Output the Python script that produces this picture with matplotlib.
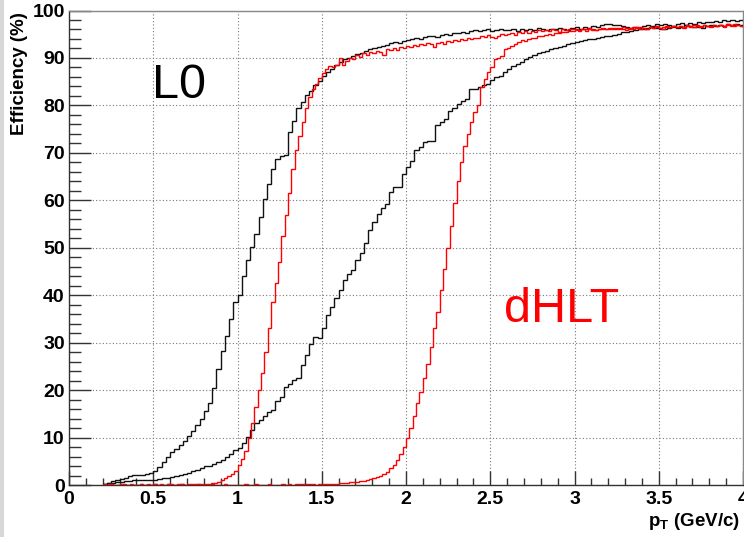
import numpy as np
import matplotlib
matplotlib.use("Agg")
import matplotlib.pyplot as plt
from matplotlib.ticker import MultipleLocator

plt.rcParams['font.family'] = ['Liberation Sans', 'DejaVu Sans']
plt.rcParams['mathtext.fontset'] = 'custom'
plt.rcParams['mathtext.rm'] = 'Liberation Sans'
plt.rcParams['mathtext.bf'] = 'Liberation Sans:bold'

# histograms start at pT = 0.2 GeV/c
x_start = 0.2
x_end = 4.0

# black curves: bin width 0.025
l0_low = [
    0.3, 0.5, 0.8, 1.0, 1.2, 1.5, 1.8, 2.1,
    2.1, 2.2, 2.4, 2.6, 2.9, 3.8, 4.8, 5.8,
    6.9, 7.6, 8.5, 9.3, 10.3, 11.4, 12.6, 14.0,
    15.5, 17.2, 20.5, 24.5, 28.2, 31.5, 35.0, 38.5,
    40.0, 44.0, 47.5, 50.2, 52.8, 56.5, 60.2, 63.5,
    66.5, 68.8, 69.3, 69.5, 74.4, 76.8, 79.5, 80.8,
    82.2, 83.0, 84.3, 85.2, 86.2, 87.0, 87.6, 88.5,
    89.1, 89.7, 90.0, 90.4, 90.9, 91.0, 91.5, 91.8,
    92.0, 92.3, 92.6, 92.8, 93.1, 93.3, 93.2, 93.6,
    93.7, 93.9, 94.2, 94.0, 94.4, 94.6, 94.7, 94.5,
    94.9, 95.1, 94.9, 95.2, 95.3, 95.5, 95.2, 95.6,
    95.8, 95.6, 95.8, 96.0, 95.7, 95.8, 96.1, 95.9,
    95.8, 96.0, 95.7, 96.2, 95.9, 96.1, 95.8, 96.3,
    96.0, 95.8, 96.2, 96.0, 96.4, 96.1, 95.9, 96.3,
    96.5, 96.2, 96.6, 96.4, 96.8, 96.5, 96.9, 97.1,
    97.2, 96.9, 97.0, 96.7, 96.5, 96.3, 96.6, 96.4,
    96.8, 97.0, 96.7, 97.1, 96.9, 97.2, 97.0, 96.8,
    97.1, 97.3, 97.0, 97.4, 97.2, 97.5, 97.3, 97.6,
    97.5, 97.8, 97.6, 97.9, 97.7, 98.0, 97.8, 98.1,
]
l0_high = [
    0.2, 0.4, 0.5, 0.6, 0.7, 0.8, 0.9, 1.0,
    1.0, 1.0, 1.1, 1.1, 1.1, 1.2, 1.4, 1.5,
    1.7, 1.9, 2.1, 2.3, 2.6, 2.9, 3.2, 3.6,
    3.9, 4.1, 4.5, 4.9, 5.3, 5.9, 6.6, 7.3,
    7.7, 8.8, 10.2, 11.5, 13.0, 13.8, 14.6, 15.4,
    15.8, 17.6, 18.6, 20.7, 21.2, 22.1, 22.5, 25.3,
    27.5, 29.8, 31.2, 30.9, 33.0, 35.8, 37.5, 39.5,
    41.2, 43.2, 44.5, 45.3, 47.5, 48.8, 50.9, 53.7,
    55.5, 57.2, 58.3, 59.3, 61.7, 62.8, 62.8, 65.6,
    67.0, 68.3, 70.5, 71.2, 72.3, 72.6, 72.6, 75.8,
    76.5, 77.2, 78.9, 79.5, 80.4, 81.0, 81.4, 83.5,
    83.5, 83.8, 84.2, 84.6, 85.3, 86.0, 86.3, 87.0,
    87.7, 88.3, 88.8, 89.2, 89.8, 90.3, 90.6, 91.0,
    91.2, 91.5, 91.9, 92.1, 92.3, 92.6, 92.9, 93.1,
    93.3, 93.5, 93.8, 94.0, 94.0, 94.3, 94.5, 94.6,
    94.6, 94.9, 95.1, 95.4, 95.4, 95.7, 95.9, 96.0,
    96.0, 96.3, 96.5, 96.3, 96.2, 96.1, 96.3, 96.5,
    96.3, 96.6, 97.0, 96.8, 96.5, 96.6, 96.4, 96.7,
    96.9, 96.7, 97.0, 96.8, 97.1, 96.9, 97.2, 97.0,
]

# red curves: bin width 0.02
hlt_low = [
    0.2, 0.0, 0.3, 0.1, 0.0, 0.2, 0.0, 0.1, 0.3, 0.0,
    0.1, 0.2, 0.0, 0.3, 0.1, 0.2, 0.0, 0.2, 0.1, 0.3,
    0.2, 0.1, 0.3, 0.2, 0.1, 0.3, 0.2, 0.2, 0.3, 0.2,
    0.3, 0.3, 0.4, 0.5, 0.7, 1.0, 1.4, 1.9, 2.4, 2.9,
    4.2, 5.5, 7.2, 9.8, 13.0, 16.5, 20.0, 23.5, 28.0, 33.0,
    38.5, 42.5, 47.0, 52.5, 57.0, 61.5, 66.5, 70.5, 73.5, 76.5,
    79.5, 81.8, 83.5, 84.5, 85.8, 86.8, 87.7, 88.3, 88.0, 88.6,
    89.9, 88.6, 89.4, 90.0, 89.8, 90.6, 90.3, 91.0, 90.7, 91.2,
    91.0, 91.5, 91.3, 90.6, 91.8, 91.6, 92.0, 91.7, 92.3, 92.1,
    92.6, 92.3, 92.8, 92.5, 93.0, 92.7, 93.1, 92.9, 92.4, 93.2,
    93.3, 93.0, 93.6, 93.4, 93.8, 93.5, 94.0, 93.7, 94.2, 93.9,
    94.3, 94.1, 94.6, 94.4, 94.8, 94.5, 94.2, 94.7, 95.0, 94.8,
    95.0, 95.3, 94.9, 95.4, 95.2, 95.6, 95.3, 95.7, 95.5, 95.8,
    95.6, 95.9, 95.7, 96.0, 95.8, 95.5, 96.1, 95.9, 96.2, 96.0,
    96.1, 95.9, 96.2, 96.0, 96.3, 96.1, 95.8, 96.2, 96.4, 96.1,
    96.3, 96.0, 96.4, 96.2, 96.5, 96.3, 96.1, 96.5, 96.3, 96.6,
    96.4, 96.2, 96.6, 96.4, 96.7, 96.3, 96.6, 96.8, 96.5, 96.7,
    96.5, 96.8, 96.6, 96.9, 96.7, 96.5, 96.9, 96.7, 97.0, 96.8,
    96.6, 96.9, 96.7, 97.0, 96.8, 97.1, 96.9, 96.7, 97.0, 96.8,
]
hlt_high = [
    0.1, 0.0, 0.2, 0.0, 0.1, 0.0, 0.2, 0.1, 0.0, 0.1,
    0.0, 0.2, 0.1, 0.0, 0.1, 0.2, 0.0, 0.1, 0.0, 0.2,
    0.1, 0.0, 0.1, 0.2, 0.0, 0.1, 0.0, 0.1, 0.2, 0.0,
    0.1, 0.0, 0.2, 0.1, 0.0, 0.1, 0.2, 0.0, 0.1, 0.1,
    0.0, 0.1, 0.2, 0.1, 0.0, 0.2, 0.1, 0.1, 0.0, 0.2,
    0.1, 0.0, 0.1, 0.2, 0.1, 0.2, 0.1, 0.2, 0.3, 0.2,
    0.2, 0.3, 0.2, 0.1, 0.3, 0.2, 0.3, 0.2, 0.3, 0.3,
    0.4, 0.5, 0.5, 0.6, 0.6, 0.7, 0.8, 0.9, 1.0, 1.2,
    1.4, 1.6, 1.9, 2.3, 2.8, 3.5, 4.3, 5.3, 6.6, 8.0,
    9.8, 12.0, 14.5, 17.2, 19.5, 22.5, 25.5, 29.0, 33.0, 36.5,
    41.0, 45.5, 50.0, 54.5, 59.5, 64.0, 68.0, 71.5, 74.0, 76.5,
    78.6, 80.0, 83.9, 85.5, 87.0, 88.0, 89.8, 90.0, 90.5, 91.9,
    92.2, 92.6, 93.0, 93.3, 93.8, 93.5, 94.0, 94.3, 94.1, 94.6,
    94.7, 94.9, 95.1, 94.8, 95.3, 95.2, 95.5, 95.4, 95.7, 95.6,
    95.8, 95.6, 96.0, 95.7, 96.1, 95.9, 95.8, 96.2, 96.0, 96.1,
    96.1, 96.3, 96.0, 96.4, 96.2, 95.9, 96.3, 96.1, 96.5, 96.2,
    96.4, 96.2, 96.5, 96.3, 96.6, 96.4, 96.2, 96.6, 96.5, 96.7,
    96.5, 96.7, 96.4, 96.8, 96.6, 96.9, 96.7, 96.5, 96.9, 96.7,
    96.8, 97.0, 96.7, 96.9, 96.6, 97.0, 96.8, 97.1, 96.9, 96.8,
]

fig = plt.figure(figsize=(7.44, 5.37), dpi=100)
ax = fig.add_axes([69 / 744, 52 / 537, 674 / 744, 474.5 / 537])

edges_black = np.linspace(x_start, x_end, len(l0_low) + 1)
edges_red = np.linspace(x_start, x_end, len(hlt_low) + 1)

ax.stairs(l0_low, edges_black, baseline=None, color='#111111', lw=1.0, zorder=3)
ax.stairs(l0_high, edges_black, baseline=None, color='#111111', lw=1.0, zorder=3)
ax.stairs(hlt_low, edges_red, baseline=None, color='#ff0000', lw=1.0, zorder=3)
ax.stairs(hlt_high, edges_red, baseline=None, color='#ff0000', lw=1.0, zorder=3)

ax.set_xlim(0, 4)
ax.set_ylim(0, 100)

# ROOT style axes
ax.xaxis.set_major_locator(MultipleLocator(0.5))
ax.xaxis.set_minor_locator(MultipleLocator(0.1))
ax.yaxis.set_major_locator(MultipleLocator(10))
ax.yaxis.set_minor_locator(MultipleLocator(2))
ax.xaxis.set_major_formatter(matplotlib.ticker.FuncFormatter(lambda v, p: f"{v:g}"))

ax.tick_params(axis='y', which='major', direction='in', length=16, width=1, color='#333333',
               right=False, labelsize=14, pad=3)
ax.tick_params(axis='y', which='minor', direction='in', length=8.5, width=1, color='#333333', right=False)
ax.tick_params(axis='x', which='major', direction='in', length=10, width=1, color='#333333',
               top=False, labelsize=14, pad=4)
ax.tick_params(axis='x', which='minor', direction='in', length=5, width=1, color='#333333', top=False)
for lab in ax.get_xticklabels() + ax.get_yticklabels():
    lab.set_fontweight('bold')

ax.grid(True, which='major', color='#777777', linestyle=(0, (1, 2)), lw=0.8, zorder=1)
ax.set_axisbelow(True)

ax.spines['left'].set_color('#333333')
ax.spines['bottom'].set_color('#333333')
ax.spines['top'].set_color('#888888')
ax.spines['right'].set_color('#888888')
for s in ax.spines.values():
    s.set_linewidth(1.0)

ax.text(0.49, 81.5, "L0", fontsize=35, color='black', ha='left', va='baseline')
ax.text(2.58, 34.3, "dHLT", fontsize=35, color='#ff0000', ha='left', va='baseline')

fig.text(20 / 744, 1 - 12 / 537, "Efficiency (%)", rotation=90, ha='center', va='top',
         fontsize=13.5, fontweight='bold')
fig.text(740 / 744, 1 - 522 / 537, r"$\mathbf{p_{T}}$ (GeV/c)", ha='right', va='center',
         fontsize=13.5, fontweight='bold')

# light window border on the left edge
fig.add_artist(plt.Line2D([1.5 / 744, 1.5 / 744], [0, 1], transform=fig.transFigure,
                          color='#d8d8d8', lw=3))

fig.savefig("out.png", dpi=100)
